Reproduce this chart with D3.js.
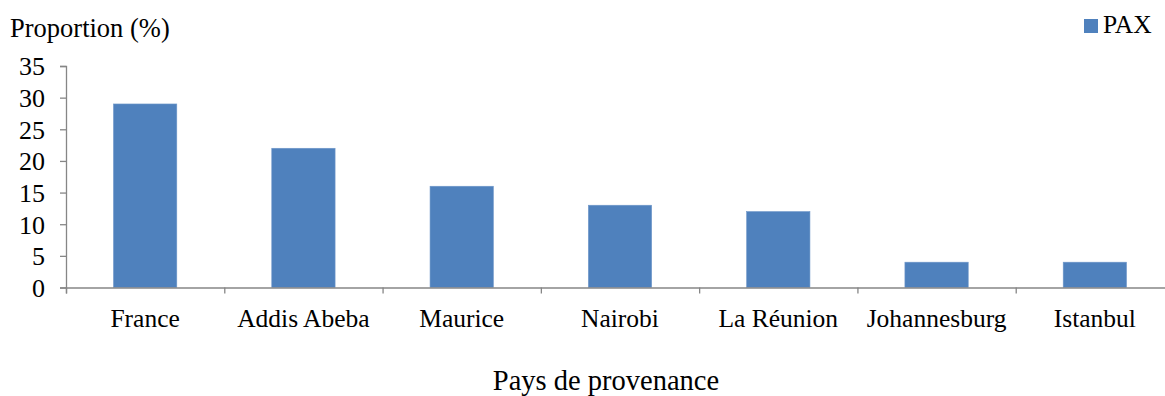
<!DOCTYPE html>
<html>
<head>
<meta charset="utf-8">
<script src="https://cdn.jsdelivr.net/npm/d3@7"></script>
<style>
  body { margin: 0; background: #fff; }
  svg { display: block; }
  text { font-family: "Liberation Serif", "Times New Roman", serif; fill: #000; }
</style>
</head>
<body>
<div id="chart"></div>
<script>
const categories = ["France", "Addis Abeba", "Maurice", "Nairobi", "La Réunion", "Johannesburg", "Istanbul"];
const paxValues = [29, 22, 16, 13, 12, 4, 4];
const yTicks = [0, 5, 10, 15, 20, 25, 30, 35];
const seriesName = "PAX";

const width = 1165, height = 396;
const plot = { left: 66, right: 1174, top: 66, bottom: 287.5 };
const barColor = "#4F81BD";
const axisColor = "#868686";
const labelSize = "25.5px";

const svg = d3.select("#chart").append("svg")
  .attr("width", width).attr("height", height);

const x = d3.scaleBand().domain(categories).range([plot.left, plot.right]).paddingInner(0.6).paddingOuter(0.3);
const xEdges = d3.scaleLinear().domain([0, categories.length]).range([plot.left, plot.right]);
const y = d3.scaleLinear().domain([0, 35]).range([plot.bottom, plot.top]);

// bars
svg.append("g").selectAll("rect").data(categories).join("rect")
  .attr("x", d => x(d))
  .attr("width", x.bandwidth())
  .attr("y", (d, i) => y(paxValues[i]))
  .attr("height", (d, i) => y(0) - y(paxValues[i]))
  .attr("fill", barColor)
  .attr("stroke", "#6f97c9")
  .attr("stroke-width", 0.6);

// y axis
const yAxis = svg.append("g").attr("transform", `translate(${plot.left},0)`)
  .call(d3.axisLeft(y).tickValues(yTicks).tickSize(6).tickPadding(15));
yAxis.select(".domain").attr("stroke", axisColor).attr("stroke-width", 1.3);
yAxis.selectAll(".tick line").attr("stroke", axisColor).attr("stroke-width", 1.3);
yAxis.selectAll(".tick text").style("font-size", "26px").attr("fill", "#000")
  .style("font-family", "'Liberation Serif', serif").attr("dy", "0.34em");

// x axis: baseline with ticks at category boundaries
const xAxis = svg.append("g").attr("transform", `translate(0,${plot.bottom})`)
  .call(d3.axisBottom(xEdges).tickValues(d3.range(0, categories.length + 1)).tickSize(6).tickFormat(""));
xAxis.select(".domain").attr("stroke", axisColor).attr("stroke-width", 1.3);
xAxis.selectAll(".tick line").attr("stroke", axisColor).attr("stroke-width", 1.3);

// category labels
svg.append("g").selectAll("text").data(categories).join("text")
  .attr("x", d => x(d) + x.bandwidth() / 2)
  .attr("y", 327)
  .attr("text-anchor", "middle")
  .style("font-size", labelSize)
  .text(d => d);

// axis titles
svg.append("text").attr("x", 10).attr("y", 37).style("font-size", "26.5px").text("Proportion (%)");
svg.append("text").attr("x", 606).attr("y", 390).attr("text-anchor", "middle")
  .style("font-size", "28.5px").text("Pays de provenance");

// legend
const legend = svg.append("g");
legend.append("rect").attr("x", 1084).attr("y", 19).attr("width", 14).attr("height", 14).attr("fill", barColor);
legend.append("text").attr("x", 1103).attr("y", 33).style("font-size", labelSize).text(seriesName);
</script>
</body>
</html>
